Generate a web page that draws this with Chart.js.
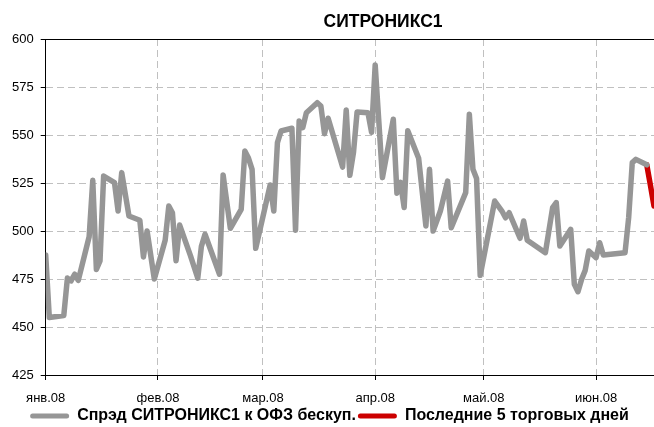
<!DOCTYPE html>
<html><head><meta charset="utf-8">
<script src="https://cdn.jsdelivr.net/npm/chart.js@4.4.1/dist/chart.umd.min.js"></script>
<style>html,body{margin:0;padding:0;background:#fff;overflow:hidden}#wrap{width:654px;height:434px}</style>
</head><body><div id="wrap"><canvas id="c" width="654" height="434"></canvas></div>
<script>
const chartTitle = 'СИТРОНИКС1';
const seriesName = 'Спрэд СИТРОНИКС1 к ОФЗ бескуп.';
const lastName = 'Последние 5 торговых дней';
// x = day offset from 1 Jan 2008
const monthStarts = [0, 31, 60, 91, 121, 152];
const monthLabels = ['янв.08', 'фев.08', 'мар.08', 'апр.08', 'май.08', 'июн.08'];
const yTicks = [425, 450, 475, 500, 525, 550, 575, 600];
const days = [0,1,5,6,7,8,9,12,13,14,15,16,19,20,21,23,26,27,28,30,33,34,35,36,37,40,42,43,44,48,49,51,54,55,56,57,58,62,63,64,65,68,69,70,71,72,75,76,77,78,82,83,84,85,86,89,90,91,93,96,97,98,99,100,103,105,106,107,109,111,112,116,117,118,119,120,124,126,127,128,131,132,133,134,138,140,141,142,145,146,147,148,149,150,152,153,154,160,161,162,163,166];
const spread = [487.5,455,456,475.5,474,477.5,474.3,497,526.4,480,484.4,528.6,525.2,510.4,530.4,507.8,505.6,486.5,500,475,495.2,513,509.5,484.5,503.1,487,475.4,492,498.3,477.5,529.2,501.4,511.3,541.7,538,532.1,491,524,510.4,546,552.1,553.5,500.4,557.3,553.8,561.6,566.8,565.1,550.7,558.7,533.3,563,529,540.8,562,561.6,551.4,586.5,527.8,558.2,519.7,525.3,512.2,552.2,537.9,502.6,532.1,500,510.4,526,501.7,520,560.8,532.1,527.3,476.9,515.6,510.4,506.9,509.5,496.2,505.2,495.2,493.9,488.7,512.2,514.8,492.2,500.9,472.2,468.4,474.8,479.5,489.6,486.1,493.9,487.5,488.7,506.9,535.6,537.3,534.5];
const lastDays = [166, 167, 168];
const lastSpread = [534.5, 524, 513];

const regular = "'Liberation Sans',Arial,sans-serif";
const toXY = (xs, ys) => xs.map((d, i) => ({x: d, y: ys[i]}));

const titlePlugin = {
  id: 'customTitle',
  afterDraw(chart) {
    const c = chart.ctx;
    c.save();
    c.font = 'bold 17.5px ' + regular;
    c.fillStyle = '#000';
    c.textAlign = 'center';
    c.textBaseline = 'middle';
    c.fillText(chartTitle, 383, 22);
    c.restore();
  }
};

new Chart(document.getElementById('c'), {
  type: 'line',
  data: {
    datasets: [
      {label: seriesName, data: toXY(days, spread), borderColor: '#969696', backgroundColor: '#969696',
       borderWidth: 5.5, pointRadius: 0, tension: 0, borderJoinStyle: 'round', borderCapStyle: 'round'},
      {label: lastName, data: toXY(lastDays, lastSpread), borderColor: '#cc0000', backgroundColor: '#cc0000',
       borderWidth: 5.5, pointRadius: 0, tension: 0, borderJoinStyle: 'round', borderCapStyle: 'round'}
    ]
  },
  options: {
    responsive: false, animation: false, devicePixelRatio: 1,
    layout: {padding: {left: 5, right: 0, top: 39, bottom: 0}},
    plugins: {
      title: {display: false},
      tooltip: {enabled: false},
      legend: {
        position: 'bottom',
        labels: {
          boxWidth: 39, boxHeight: 5, useBorderRadius: true, borderRadius: 2.5, padding: 2,
          color: '#000', font: {family: regular, size: 16, weight: 'bold', lineHeight: 1},
          generateLabels: chart => Chart.defaults.plugins.legend.labels.generateLabels(chart)
            .map(l => Object.assign(l, {lineWidth: 0}))
        }
      }
    },
    scales: {
      x: {
        type: 'linear', min: 0, max: 168,
        afterBuildTicks: axis => { axis.ticks = monthStarts.map(v => ({value: v})); },
        afterFit: axis => { axis.height = 31; },
        ticks: {autoSkip: false, maxRotation: 0, color: '#000', font: {family: regular, size: 13, lineHeight: 1}, padding: 11.5,
                callback: v => monthLabels[monthStarts.indexOf(v)]},
        grid: {color: '#c0c0c0', tickColor: '#000', tickLength: 5, tickBorderDash: []},
        border: {color: '#000', width: 1, dash: [7, 4]}
      },
      xTop: {
        type: 'linear', position: 'top', min: 0, max: 168,
        ticks: {display: false}, grid: {display: false, drawTicks: false},
        border: {display: true, color: '#000', width: 1}
      },
      y: {
        min: 425, max: 600,
        afterBuildTicks: axis => { axis.ticks = yTicks.map(v => ({value: v})); },
        ticks: {color: '#000', font: {family: regular, size: 13, lineHeight: 1}, padding: 7},
        grid: {color: '#c0c0c0', tickColor: '#000', tickLength: 5, tickBorderDash: []},
        border: {color: '#000', width: 1, dash: [7, 4]}
      }
    }
  },
  plugins: [titlePlugin]
});
</script>
</body></html>
